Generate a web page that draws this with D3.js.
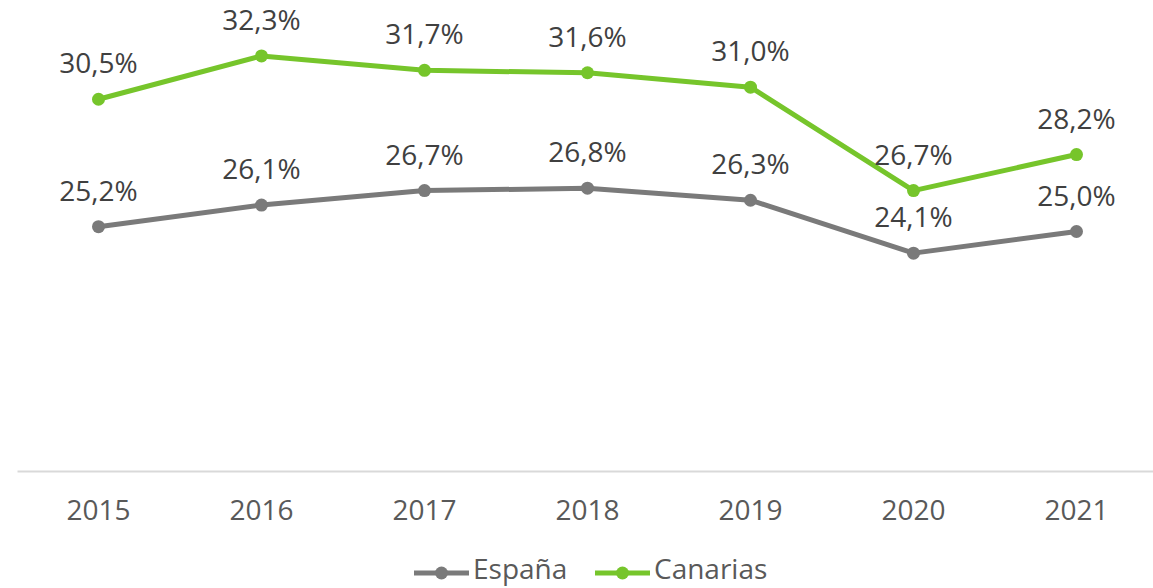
<!DOCTYPE html>
<html>
<head>
<meta charset="utf-8"/>
<style>
  body { margin: 0; background: #fff; }
  svg text { font-family: "Open Sans", sans-serif; }
</style>
</head>
<body>
<div id="chart"></div>
<script src="https://d3js.org/d3.v7.min.js"></script>
<script>
// data
var years    = ["2015", "2016", "2017", "2018", "2019", "2020", "2021"];
var espana   = [25.2, 26.1, 26.7, 26.8, 26.3, 24.1, 25.0];
var canarias = [30.5, 32.3, 31.7, 31.6, 31.0, 26.7, 28.2];
var seriesNames = ["España", "Canarias"];

var width = 1153, height = 588;
var colors = {"España": "#7a7a7a", "Canarias": "#76c52b"};

var svg = d3.select("#chart").append("svg")
    .attr("width", width)
    .attr("height", height);

var x = d3.scaleBand().domain(years).range([17, 1158]);
var y = d3.scaleLinear().domain([15, 35]).range([472, -9]);

// baseline axis
var xAxis = svg.append("g")
    .attr("transform", "translate(0," + (y(15) - 1) + ")")
    .call(d3.axisBottom(x).tickSize(0).tickPadding(29));
xAxis.select(".domain").attr("stroke", "#d9d9d9").attr("stroke-width", 2);
xAxis.selectAll("text")
    .attr("font-size", "28px")
    .attr("fill", "#595959")
    .attr("font-family", "Open Sans");

var series = [
  {name: "España", values: espana},
  {name: "Canarias", values: canarias}
];

var line = d3.line()
    .x(function(d, i) { return x(years[i]) + x.bandwidth() / 2; })
    .y(function(d) { return y(d); });

series.forEach(function(s) {
  var g = svg.append("g");
  g.append("path")
    .datum(s.values)
    .attr("d", line)
    .attr("fill", "none")
    .attr("stroke", colors[s.name])
    .attr("stroke-width", 5)
    .attr("stroke-linejoin", "round");
  g.selectAll("circle")
    .data(s.values)
    .enter().append("circle")
    .attr("cx", function(d, i) { return x(years[i]) + x.bandwidth() / 2; })
    .attr("cy", function(d) { return y(d); })
    .attr("r", 6.5)
    .attr("fill", colors[s.name]);
  g.selectAll("text")
    .data(s.values)
    .enter().append("text")
    .attr("x", function(d, i) { return x(years[i]) + x.bandwidth() / 2; })
    .attr("y", function(d) { return y(d) - 26; })
    .attr("text-anchor", "middle")
    .attr("font-size", "28px")
    .attr("fill", "#404040")
    .text(function(d) { return d.toFixed(1).replace(".", ",") + "%"; });
});

// legend
var legendX = [414, 595];
var legend = svg.append("g");
seriesNames.forEach(function(name, i) {
  var lg = legend.append("g").attr("transform", "translate(" + legendX[i] + ",573)");
  lg.append("line")
    .attr("x1", 0).attr("x2", 55)
    .attr("stroke", colors[name])
    .attr("stroke-width", 5);
  lg.append("circle")
    .attr("cx", 27.5).attr("r", 6.5)
    .attr("fill", colors[name]);
  lg.append("text")
    .attr("x", 59).attr("y", 6)
    .attr("font-size", "28px")
    .attr("fill", "#595959")
    .text(name);
});
</script>
</body>
</html>
